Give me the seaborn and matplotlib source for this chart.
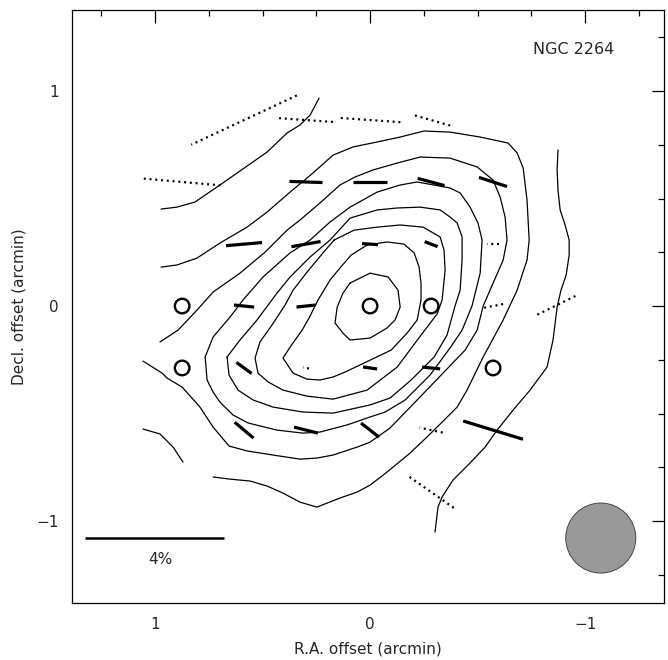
import numpy as np
import matplotlib
matplotlib.use("Agg")
import matplotlib.pyplot as plt
from matplotlib.patches import Circle
from matplotlib.ticker import MultipleLocator
import pandas as pd
import seaborn as sns

# ---------------- data (offsets in arcmin) ----------------
# outermost level: three separate pieces
c8a_x = [0.972, 0.898, 0.814, 0.698, 0.572, 0.479, 0.386, 0.326, 0.279, 0.237]
c8a_y = [0.451, 0.460, 0.484, 0.563, 0.651, 0.716, 0.805, 0.842, 0.888, 0.967]
c8b_x = [-0.874, -0.870, -0.874, -0.884, -0.907, -0.926, -0.926, -0.912, -0.888, -0.870,
         -0.851, -0.823, -0.744, -0.665, -0.591, -0.535, -0.465, -0.386, -0.335, -0.316,
         -0.307, -0.302]
c8b_y = [0.726, 0.633, 0.540, 0.447, 0.377, 0.307, 0.237, 0.144, 0.074, -0.005,
         -0.158, -0.284, -0.391, -0.484, -0.577, -0.656, -0.730, -0.809, -0.888, -0.935,
         -1.009, -1.051]
c8c_x = [1.056, 0.977, 0.916, 0.870]
c8c_y = [-0.572, -0.595, -0.656, -0.726]

c7_x = [0.972, 0.898, 0.805, 0.698, 0.572, 0.479, 0.372, 0.265, 0.172, 0.079, -0.033,
        -0.140, -0.251, -0.372, -0.512, -0.642, -0.684, -0.712, -0.730, -0.740, -0.730,
        -0.684, -0.619, -0.526, -0.451, -0.405, -0.335, -0.265, -0.186, -0.079, 0.0,
        0.060, 0.140, 0.247, 0.326, 0.405, 0.479, 0.558, 0.651, 0.730]
c7_y = [0.181, 0.191, 0.223, 0.293, 0.367, 0.437, 0.530, 0.619, 0.702, 0.740, 0.763,
        0.786, 0.814, 0.809, 0.786, 0.758, 0.712, 0.642, 0.493, 0.307, 0.214,
        0.074, -0.065, -0.237, -0.391, -0.470, -0.540, -0.609, -0.684, -0.772, -0.833,
        -0.865, -0.893, -0.935, -0.912, -0.870, -0.837, -0.814, -0.805, -0.795]

c6_x = [0.977, 0.893, 0.805, 0.730, 0.605, 0.488, 0.386, 0.326, 0.233, 0.140, 0.070,
        -0.014, -0.126, -0.233, -0.372, -0.498, -0.572, -0.605, -0.628, -0.637, -0.619,
        -0.558, -0.526, -0.498, -0.442, -0.344, -0.219, -0.093, 0.0, 0.060, 0.172,
        0.247, 0.326, 0.451, 0.572, 0.656, 0.730, 0.791, 0.874, 0.944, 0.967, 1.056]
c6_y = [-0.167, -0.112, -0.019, 0.065, 0.153, 0.251, 0.353, 0.400, 0.479, 0.563, 0.600,
        0.633, 0.665, 0.693, 0.688, 0.647, 0.586, 0.507, 0.414, 0.307, 0.214,
        0.074, 0.0, -0.112, -0.205, -0.307, -0.437, -0.567, -0.633, -0.656, -0.693,
        -0.707, -0.712, -0.693, -0.674, -0.651, -0.563, -0.470, -0.377, -0.335, -0.312, -0.256]

c5_x = [0.767, 0.758, 0.730, 0.698, 0.637, 0.567, 0.433, 0.312, 0.233, 0.107, 0.0,
        -0.070, -0.163, -0.279, -0.372, -0.428, -0.474, -0.512, -0.521, -0.502, -0.465,
        -0.419, -0.372, -0.219, -0.140, -0.033, 0.093, 0.186, 0.279, 0.372, 0.498,
        0.591, 0.651, 0.730, 0.767]
c5_y = [-0.237, -0.344, -0.400, -0.447, -0.507, -0.544, -0.577, -0.591, -0.586, -0.553, -0.516,
        -0.493, -0.437, -0.321, -0.195, -0.112, 0.0, 0.153, 0.307, 0.386, 0.460,
        0.526, 0.549, 0.577, 0.563, 0.530, 0.460, 0.391, 0.307, 0.247, 0.135,
        0.028, -0.051, -0.144, -0.237]

c4_x = [0.665, 0.656, 0.614, 0.544, 0.451, 0.312, 0.172, 0.0, -0.093, -0.191, -0.298,
        -0.358, -0.395, -0.419, -0.428, -0.428, -0.405, -0.372, -0.326, -0.233, -0.126,
        -0.033, 0.093, 0.186, 0.279, 0.372, 0.433, 0.526, 0.605, 0.665]
c4_y = [-0.237, -0.321, -0.391, -0.437, -0.470, -0.493, -0.498, -0.460, -0.428, -0.344, -0.237,
        -0.135, 0.0, 0.074, 0.214, 0.321, 0.386, 0.414, 0.447, 0.460, 0.456,
        0.447, 0.409, 0.307, 0.228, 0.135, 0.060, -0.065, -0.158, -0.237]

c3_x = [0.167, 0.219, 0.293, 0.358, 0.395, 0.456, 0.512, 0.535, 0.521, 0.474, 0.405,
        0.293, 0.172, 0.014, -0.126, -0.237, -0.312, -0.335, -0.349, -0.344, -0.326,
        -0.247, -0.140, -0.033, 0.074, 0.167]
c3_y = [0.307, 0.247, 0.158, 0.074, 0.005, -0.088, -0.167, -0.242, -0.312, -0.353, -0.391,
        -0.419, -0.433, -0.391, -0.284, -0.135, -0.037, 0.028, 0.167, 0.260, 0.321,
        0.367, 0.377, 0.367, 0.353, 0.307]

c2_x = [0.014, -0.079, -0.158, -0.205, -0.228, -0.237, -0.237, -0.219, -0.172, -0.098,
        0.028, 0.116, 0.172, 0.233, 0.293, 0.358, 0.405, 0.372, 0.316, 0.284, 0.242,
        0.186, 0.140, 0.088, 0.014]
c2_y = [0.284, 0.298, 0.288, 0.247, 0.181, 0.107, 0.028, -0.065, -0.126, -0.205,
        -0.265, -0.307, -0.330, -0.344, -0.340, -0.312, -0.242, -0.191, -0.112, -0.056, 0.028,
        0.121, 0.177, 0.237, 0.284]

c1_x = [0.093, 0.0, -0.084, -0.130, -0.140, -0.116, -0.079, 0.0, 0.093, 0.126, 0.163, 0.153, 0.126, 0.093]
c1_y = [0.107, 0.153, 0.135, 0.074, -0.005, -0.065, -0.102, -0.149, -0.158, -0.126, -0.079, -0.005, 0.060, 0.107]

contours = [(c8a_x, c8a_y), (c8b_x, c8b_y), (c8c_x, c8c_y), (c7_x, c7_y),
            (c6_x, c6_y), (c5_x, c5_y), (c4_x, c4_y), (c3_x, c3_y),
            (c2_x, c2_y), (c1_x, c1_y)]

# polarization vectors: position, degree (%), position angle (deg)
vec_x = [0.298, 0.0, -0.284, -0.572, 0.586, 0.298, 0.0, -0.284, 0.586, 0.298,
         0.586, 0.586, 0.298, 0.0, -0.284, 0.0, -0.572]
vec_y = [0.577, 0.577, 0.577, 0.577, 0.288, 0.288, 0.288, 0.288, 0.0, 0.0,
         -0.288, -0.577, -0.577, -0.288, -0.288, -0.577, -0.577]
vec_p = [0.95, 1.00, 0.80, 0.85, 1.04, 0.85, 0.46, 0.40, 0.58, 0.55,
         0.54, 0.71, 0.71, 0.41, 0.52, 0.66, 1.80]
vec_pa = [88, 90, 75, 72, 95, 100, 86, 69, 84, 96, 54, 50, 76, 82, 84, 52, 73]

# low-significance vectors (dotted)
low_x = [0.586, 0.298, 0.0, -0.284, 0.874, -0.572, -0.572, -0.860, 0.298, -0.284, -0.284]
low_y = [0.865, 0.865, 0.865, 0.865, 0.577, 0.288, 0.0, 0.0, -0.288, -0.577, -0.865]
low_p = [3.35, 1.55, 1.75, 1.14, 2.22, 0.37, 0.59, 1.31, 0.18, 0.68, 1.59]
low_pa = [115, 86, 86, 74, 85, 90, 101, 116, 80, 78, 55]

# positions marked with open circles
circ_x = [0.874, 0.0, -0.284, 0.874, -0.572]
circ_y = [0.0, 0.0, 0.0, -0.288, -0.288]

scale_pct = 4.0
scale_label = '4%'
arcmin_per_pct = 0.1617
beam_radius = 0.163

# ---------------- figure ----------------
sns.set_theme(style="white")
plt.rcParams['font.family'] = ['DejaVu Sans']
plt.rcParams['axes.unicode_minus'] = True

fig = plt.figure(figsize=(6.68, 6.60), dpi=100)
ax = fig.add_axes([0.1085, 0.0864, 0.8855, 0.8985])

for cx, cy in contours:
    sns.lineplot(x=cx, y=cy, sort=False, estimator=None, color='black',
                 linewidth=0.9, ax=ax, legend=False)

def segs(xs, ys, ps, pas):
    out = []
    for x, y, p, pa in zip(xs, ys, ps, pas):
        h = 0.5 * p * arcmin_per_pct
        dx = h * np.sin(np.radians(pa))
        dy = h * np.cos(np.radians(pa))
        out.append(([x - dx, x + dx], [y - dy, y + dy]))
    return out

for sx, sy in segs(vec_x, vec_y, vec_p, vec_pa):
    ax.plot(sx, sy, color='black', lw=2.3, solid_capstyle='butt')
for sx, sy in segs(low_x, low_y, low_p, low_pa):
    ax.plot(sx, sy, color='black', lw=1.6, linestyle=(0, (0.9, 1.7)))

sns.scatterplot(x=circ_x, y=circ_y, marker='o', s=110, facecolor='none',
                edgecolor='black', linewidth=1.7, ax=ax, legend=False)

# beam
ax.add_patch(Circle((-1.073, -1.079), beam_radius, facecolor='#999999',
                    edgecolor='#333333', lw=0.6))
# scale bar
bar_len = scale_pct * arcmin_per_pct
ax.plot([1.326, 1.326 - bar_len], [-1.079, -1.079], color='black', lw=1.8,
        solid_capstyle='butt')
ax.text(0.973, -1.177, scale_label, ha='center', va='center', fontsize=11)
ax.text(-0.947, 1.191, 'NGC 2264', ha='center', va='center', fontsize=11.5)

ax.set_xlim(1.384, -1.367)
ax.set_ylim(-1.381, 1.377)
ax.xaxis.set_major_locator(MultipleLocator(1))
ax.yaxis.set_major_locator(MultipleLocator(1))
ax.xaxis.set_minor_locator(MultipleLocator(0.25))
ax.yaxis.set_minor_locator(MultipleLocator(0.25))
ax.tick_params(which='both', direction='in', top=True, right=True, color='black', width=0.9)
ax.tick_params(which='major', length=9, labelsize=11, pad=10)
ax.tick_params(which='minor', length=4.5)
for s in ax.spines.values():
    s.set_color('black')
    s.set_linewidth(0.9)
ax.set_xlabel('R.A. offset (arcmin)', fontsize=11, labelpad=7)
ax.set_ylabel('Decl. offset (arcmin)', fontsize=11, labelpad=7)

fig.savefig('out.png', dpi=100)
